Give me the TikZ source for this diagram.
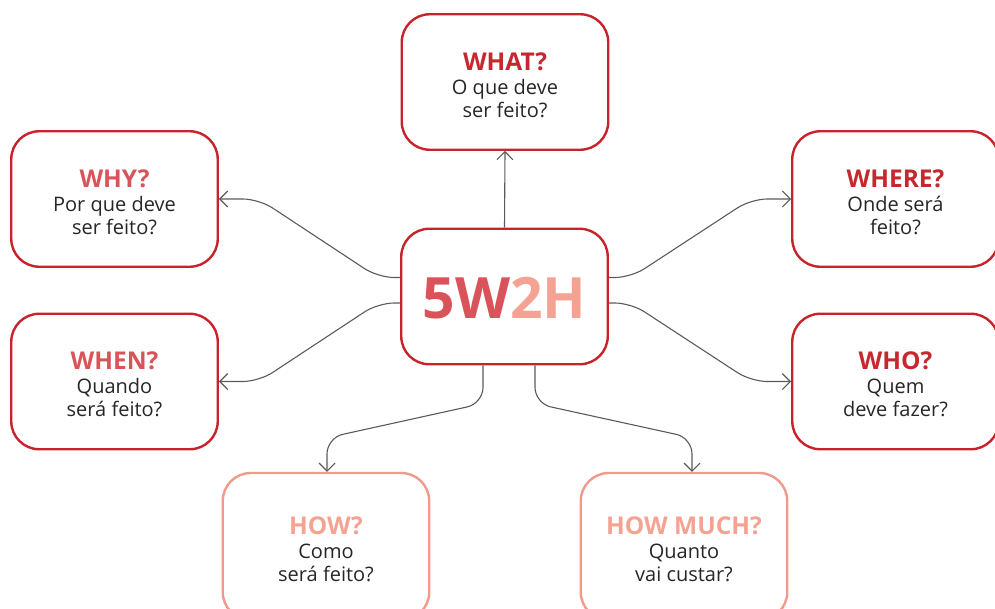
\documentclass[tikz,border=0pt]{standalone}
\usepackage{fontspec}
\setmainfont{Open Sans}
\usetikzlibrary{arrows.meta,calc}
\definecolor{boxred}{HTML}{C8232B}
\definecolor{darkttl}{HTML}{C5282F}
\definecolor{lightred}{HTML}{D9545A}
\definecolor{salmonbox}{HTML}{F29A8A}
\definecolor{salmontxt}{HTML}{F4A392}
\definecolor{conngray}{HTML}{5A5A5A}
\definecolor{bodytext}{HTML}{262626}
\newcommand\boxtitle[2]{{\fontsize{24.5}{23}\selectfont\bfseries\color{#1}\rule{0pt}{24pt}#2}}
\begin{document}
\begin{tikzpicture}[x=1pt,y=-1pt,
  box/.style={draw=boxred, line width=2.4pt, rounded corners=28pt,
    minimum width=206.5pt, minimum height=135.5pt, align=center,
    font=\fontsize{20}{23}\selectfont, text=bodytext, inner sep=0pt},
  lowbox/.style={box, draw=salmonbox, minimum height=147pt},
  conn/.style={draw=conngray, line width=1.1pt, rounded corners=16pt,
    -{Straight Barb[length=8pt,width=16pt,line width=1.1pt]}}
]
\useasboundingbox (0,0) rectangle (995,608);
\clip (0,0) rectangle (995,608);

\node[box] (c) at (504.5,296.5) {{\fontsize{57}{57}\selectfont\bfseries\rule{0pt}{45pt}\color{lightred}5W\color{salmontxt}2H}};

\node[box] (what) at (505,82) {\boxtitle{darkttl}{WHAT?}\\[1pt]O que deve\\ser feito?};
\node[box] (why) at (114.5,199) {\boxtitle{lightred}{WHY?}\\[1pt]Por que deve\\ser feito?};
\node[box] (where) at (895.5,199) {\boxtitle{darkttl}{WHERE?}\\[1pt]Onde será\\feito?};
\node[box] (when) at (114.5,381.5) {\boxtitle{lightred}{WHEN?}\\[1pt]Quando\\será feito?};
\node[box] (who) at (895.5,381.5) {\boxtitle{darkttl}{WHO?}\\[1pt]Quem\\deve fazer?};
\node[lowbox] (how) at (326,546.5) {\boxtitle{salmontxt}{HOW?}\\[1pt]Como\\será feito?};
\node[lowbox] (hm) at (684,546.5) {\boxtitle{salmontxt}{HOW MUCH?}\\[1pt]Quanto\\vai custar?};

\draw[conn] (c.north) -- (what.south);
\draw[conn] ($(c.west)+(0,-19)$) -- ++(-22,0) -- ($(why.east)+(40,0)$) -- (why.east);
\draw[conn] ($(c.west)+(0,6.5)$) -- ++(-22,0) -- ($(when.east)+(40,0)$) -- (when.east);
\draw[conn] ($(c.east)+(0,-19)$) -- ++(22,0) -- ($(where.west)+(-40,0)$) -- (where.west);
\draw[conn] ($(c.east)+(0,6.5)$) -- ++(22,0) -- ($(who.west)+(-40,0)$) -- (who.west);
\draw[conn] ($(c.south)+(-21.5,0)$) -- ++(0,38) -- ($(how.north)+(1,-34)$) -- ($(how.north)+(1,0)$);
\draw[conn] ($(c.south)+(30.5,0)$) -- ++(0,38) -- ($(hm.north)+(8,-34)$) -- ($(hm.north)+(8,0)$);
\end{tikzpicture}
\end{document}
